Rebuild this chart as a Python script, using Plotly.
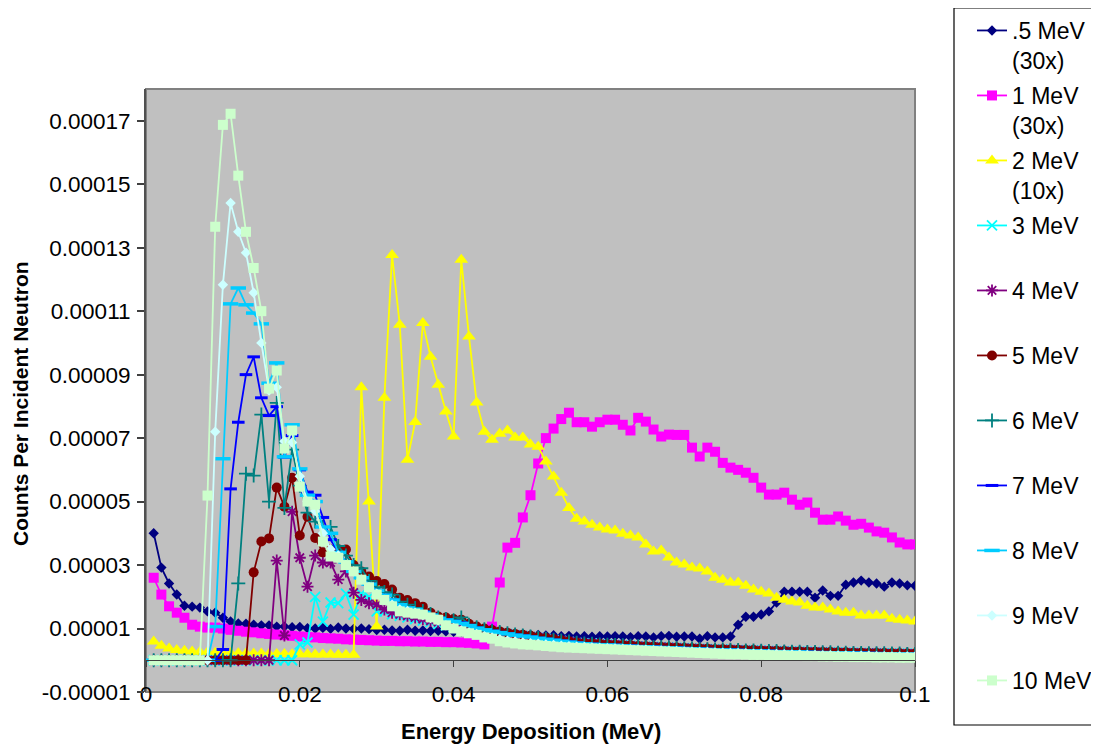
import plotly.graph_objects as go

# Energy-deposition bins (MeV)
energy = [round(0.001 * k, 3) for k in range(1, 101)]

# Counts per incident neutron, in units of 1e-6
s05 = [40, 29.2, 24.2, 20.7, 17.2, 16.9, 16.6, 15.4, 15, 13.4,
       12.2, 11.6, 11.5, 11.2, 11, 11, 10.6, 10.6, 10.4, 10.5,
       10.1, 10, 10.2, 9.9, 10.3, 10, 9.9, 10, 9.8, 9.5,
       9.6, 9.4, 9.3, 9.6, 9.3, 9.4, 9.2, 9.3, 9.1, 9,
       9.1, 8.9, 9, 8.9, 8.7, 8.5, 8.3, 8.2, 8.1, 8,
       8, 7.8, 7.9, 7.6, 7.7, 7.5, 7.6, 7.4, 7.6, 7.5,
       7.6, 7.5, 7.3, 7.6, 7.5, 7.2, 7.6, 7.7, 7.4, 7.5,
       7.5, 6.8, 7.6, 7.2, 7.2, 7.5, 11.2, 13.7, 13.7, 14.4,
       15.4, 18.2, 21.6, 21.6, 21.6, 21.6, 19.7, 22, 20.3, 20.3,
       23.8, 24.5, 25.1, 24.5, 24.2, 23.2, 24.5, 24.2, 23.6, 23.5]
s1 = [26, 20.7, 17, 15, 13.4, 11.2, 10.6, 10.3, 10.3, 10,
      9.6, 9.3, 9, 8.8, 8.5, 8.3, 8.1, 7.9, 7.7, 7.5,
      7.3, 7.2, 7, 6.9, 6.8, 6.6, 6.5, 6.4, 6.3, 6.2,
      6.1, 6.1, 6, 6, 5.9, 5.9, 5.8, 5.8, 5.7, 5.7,
      5.6, 5.5, 5.3, 5.0, 10.6, 24.5, 35.5, 37, 45, 52,
      62, 70, 73, 76, 78, 75, 75, 73.6, 75, 75.8,
      75.8, 74.2, 72.4, 76.4, 75.2, 72.7, 70.5, 71.1, 71, 71,
      67, 64.2, 67, 65.7, 62.2, 60.7, 60, 59.1, 57.5, 54.4,
      52.2, 52.2, 52.8, 50.6, 49, 49.7, 46.5, 44.3, 44.3, 45.3,
      44, 42.7, 43, 41.8, 40.6, 40.2, 38.7, 37.1, 36.5, 36.5]
s2 = [5.9, 4.6, 3.7, 3.2, 3, 2.8, 2.6, 2.5, 2.4, 2.3,
      2.2, 2.2, 2.1, 2.1, 2.1, 2, 2, 2, 1.9, 1.9,
      1.9, 1.8, 1.8, 1.8, 1.7, 1.7, 1.7, 86, 50, 10.6,
      82.7, 127.7, 105.7, 63.2, 75.1, 106.3, 95.6, 86.8, 78.4, 70.5,
      126.2, 102, 81.2, 72, 69.5, 71.4, 72.4, 70.2, 70.2, 68,
      67.3, 62.6, 57.9, 52.8, 48, 44.6, 43.7, 42.7, 41.8, 41.2,
      40.9, 39.9, 39.3, 38.7, 36.5, 34.3, 34.6, 32.4, 30.8, 30.2,
      29.2, 28.9, 28, 26, 25.4, 24.5, 24.5, 23.5, 22.3, 21.6,
      21, 19.7, 19.1, 18.5, 18.2, 17.2, 16.6, 16.6, 16, 15.4,
      15, 15, 14.1, 14.1, 14.1, 14.1, 13.1, 12.8, 12.5, 12.2]
s3 = [0] * 19 + [
      5, 5.6, 20, 12.2, 18.2, 18, 21, 14.4, 21, 20, 15.4,
      15.4, 14.5, 14, 13.5, 13, 12.5, 12, 11.5, 11, 10.5,
      10.2, 9.8, 9.5, 9, 8.8, 8.5, 8.2, 7.9, 7.6, 7.3,
      7, 6.7, 6.4, 6.1, 5.8, 5.5, 5.3, 5.2, 5.0, 4.9,
      4.8, 4.7, 4.6, 4.4, 4.3, 4.2, 4.1, 4.0, 3.9, 3.8,
      3.7, 3.6, 3.5, 3.4, 3.4, 3.3, 3.2, 3.1, 3.1, 3.0,
      2.9, 2.9, 2.8, 2.7, 2.7, 2.6, 2.6, 2.5, 2.5, 2.4,
      2.4, 2.3, 2.3, 2.2, 2.2, 2.2, 2.1, 2.1, 2.0, 2.0]
s4 = [0] * 16 + [
      31.4, 7.8, 46.8, 32.3,
      23.2, 33, 30.8, 30.8, 25.4, 28, 21.3, 19, 18, 17.5,
      16, 15, 14.5, 14, 13.5, 13, 12.4, 12, 11.4, 11,
      10.6, 10.1, 9.7, 9.3, 9, 8.7, 8.4, 8.1, 7.8, 7.5,
      7.2, 6.9, 6.6, 6.3, 6, 5.7, 5.4, 5.3, 5.1, 5.0,
      4.9, 4.8, 4.6, 4.5, 4.4, 4.3, 4.2, 4.1, 4.0, 3.9,
      3.8, 3.7, 3.6, 3.5, 3.4, 3.4, 3.3, 3.2, 3.1, 3.1,
      3.0, 2.9, 2.9, 2.8, 2.7, 2.7, 2.6, 2.6, 2.5, 2.5,
      2.4, 2.4, 2.3, 2.3, 2.3, 2.2, 2.2, 2.1, 2.1, 2.1]
s5 = [0] * 13 + [
      27.7, 37.4, 38.4, 54.4, 48.4, 57.5, 39.3,
      45.2, 38.5, 34, 34.9, 35, 34.9, 30, 28, 26.4, 25,
      24, 22.3, 19.7, 19, 18, 16.9, 15, 13.8, 13.5, 13,
      12.8, 11.5, 10.6, 10, 9.5, 9.1, 8.7, 8.3, 8, 7.7,
      7.3, 7, 6.7, 6.3, 6, 5.6, 5.4, 5.3, 5.2, 5.0,
      4.9, 4.8, 4.7, 4.5, 4.4, 4.3, 4.2, 4.1, 4.0, 3.9,
      3.8, 3.7, 3.6, 3.5, 3.5, 3.4, 3.3, 3.2, 3.2, 3.1,
      3.0, 3.0, 2.9, 2.8, 2.8, 2.7, 2.7, 2.6, 2.6, 2.5,
      2.5, 2.4, 2.4, 2.3, 2.3, 2.3, 2.2, 2.2, 2.1, 2.1]
s6 = [0] * 11 + [
      24.2, 58.8, 58.2, 77.4, 50, 81.1, 48, 66.4, 55,
      46.5, 43.7, 42, 42, 36, 33, 30, 29, 25, 23,
      21.5, 20.7, 18.5, 17.5, 16.5, 15.5, 14.6, 13.5, 13, 12.6,
      13.5, 11.2, 10.4, 9.8, 9.3, 8.9, 8.5, 8.1, 7.8, 7.5,
      7.1, 6.8, 6.5, 6.2, 5.9, 5.5, 5.3, 5.2, 5.0, 4.9,
      4.8, 4.7, 4.6, 4.4, 4.3, 4.2, 4.1, 4.0, 3.9, 3.8,
      3.7, 3.6, 3.5, 3.4, 3.4, 3.3, 3.2, 3.1, 3.1, 3.0,
      2.9, 2.9, 2.8, 2.7, 2.7, 2.6, 2.6, 2.5, 2.5, 2.4,
      2.4, 2.3, 2.3, 2.2, 2.2, 2.2, 2.1, 2.1, 2.0, 2.0]
s7 = [0] * 9 + [
      3.4,
      54, 75, 90, 95.6, 82.7, 77.1, 79.9, 64, 70.8, 60,
      53, 52, 45, 38, 34, 31, 28, 26, 24, 22,
      20.5, 19, 17.5, 16.5, 16, 15.2, 14.3, 13.3, 12.8, 12.3,
      11.8, 11, 10.2, 9.7, 9.2, 8.8, 8.4, 8, 7.7, 7.4,
      7.0, 6.7, 6.4, 6.1, 5.8, 5.5, 5.3, 5.1, 5.0, 4.9,
      4.8, 4.6, 4.5, 4.4, 4.3, 4.2, 4.1, 4.0, 3.9, 3.8,
      3.7, 3.6, 3.5, 3.4, 3.3, 3.3, 3.2, 3.1, 3.0, 3.0,
      2.9, 2.8, 2.8, 2.7, 2.7, 2.6, 2.5, 2.5, 2.4, 2.4,
      2.4, 2.3, 2.3, 2.2, 2.2, 2.1, 2.1, 2.1, 2.0, 2.0]
s8 = [0] * 8 + [
      10.6, 63.5, 112.3, 117.3, 112, 109.4, 106, 87.3, 93.7, 64.1, 74.2, 60.3,
      52, 50, 42, 40, 34, 31, 28, 26, 24, 22,
      20.5, 19, 17.5, 16.5, 16, 15, 14.2, 13.2, 12.7, 12.2,
      11.6, 10.9, 10.1, 9.6, 9.1, 8.7, 8.3, 7.9, 7.6, 7.3,
      6.9, 6.6, 6.3, 6.0, 5.7, 5.4, 5.2, 5.0, 4.9, 4.8,
      4.7, 4.5, 4.4, 4.3, 4.2, 4.1, 4.0, 3.9, 3.8, 3.7,
      3.6, 3.5, 3.4, 3.3, 3.2, 3.2, 3.1, 3.0, 2.9, 2.9,
      2.8, 2.7, 2.7, 2.6, 2.6, 2.5, 2.4, 2.4, 2.3, 2.3,
      2.3, 2.2, 2.2, 2.1, 2.1, 2.0, 2.0, 2.0, 1.9, 1.9]
s9 = [0] * 8 + [
      72, 118.3, 144.1, 135, 128.4, 115.8, 100, 85, 86, 69, 68.6, 58,
      50, 47, 40, 35, 33, 30, 28, 25.5, 23, 21,
      19, 17.5, 16, 15.5, 15, 14.2, 13.3, 12.5, 11, 10.2,
      9.4, 8.8, 8.3, 7.6, 7.2, 6.6, 6.2, 5.9, 5.6, 5.4,
      5.2, 5.0, 4.8, 4.6, 4.4, 4.3, 4.2, 4.0, 3.9, 3.8,
      3.7, 3.6, 3.5, 3.4, 3.3, 3.2, 3.1, 3.0, 2.9, 2.8,
      2.7, 2.6, 2.6, 2.5, 2.4, 2.3, 2.3, 2.2, 2.1, 2.1,
      2.0, 2.0, 1.9, 1.8, 1.8, 1.7, 1.7, 1.6, 1.6, 1.5,
      1.5, 1.4, 1.4, 1.4, 1.3, 1.3, 1.2, 1.2, 1.2, 1.1]
s10 = [0] * 7 + [
       51.9, 136.6, 168.7,
       172.2, 152.7, 135, 123.6, 110, 85.6, 91.3, 66.7, 72.4, 54.7,
       50, 49, 37.4, 32.7, 32.3, 30, 28, 25.4, 23, 20.7,
       19, 17, 15.4, 15, 14.7, 14.4, 13.5, 12.8, 11, 10,
       9.1, 8.5, 8, 7.2, 6.8, 6, 5.6, 5.3, 5, 4.9,
       4.7, 4.5, 4.3, 4.1, 4.0, 3.9, 3.8, 3.7, 3.6, 3.5,
       3.4, 3.3, 3.2, 3.1, 3.0, 2.9, 2.8, 2.7, 2.6, 2.5,
       2.4, 2.3, 2.2, 2.1, 2.0, 1.9, 1.9, 1.8, 1.7, 1.7,
       1.6, 1.5, 1.5, 1.4, 1.4, 1.3, 1.3, 1.2, 1.2, 1.1,
       1.1, 1.0, 1.0, 1.0, 0.9, 0.9, 0.9, 0.8, 0.8, 0.8]

series_names = [".5 MeV<br>(30x)", "1 MeV<br>(30x)", "2 MeV<br>(10x)", "3 MeV<br>\u00a0",
                "4 MeV<br>\u00a0", "5 MeV<br>\u00a0", "6 MeV<br>\u00a0", "7 MeV<br>\u00a0",
                "8 MeV<br>\u00a0", "9 MeV<br>\u00a0", "10 MeV"]
series_values = [s05, s1, s2, s3, s4, s5, s6, s7, s8, s9, s10]

y_tick_vals = [-1e-5, 1e-5, 3e-5, 5e-5, 7e-5, 9e-5, 11e-5, 13e-5, 15e-5, 17e-5]
y_tick_text = ["-0.00001", "0.00001", "0.00003", "0.00005", "0.00007", "0.00009",
               "0.00011", "0.00013", "0.00015", "0.00017"]
x_tick_vals = [0, 0.02, 0.04, 0.06, 0.08, 0.1]
x_tick_text = ["0", "0.02", "0.04", "0.06", "0.08", "0.1"]

styles = [
    dict(color="#000080", symbol="diamond", size=8, lw=0),
    dict(color="#FF00FF", symbol="square", size=10, lw=0),
    dict(color="#FFFF00", symbol="triangle-up", size=12, lw=0),
    dict(color="#00FFFF", symbol="x-thin", size=10, lw=1.8),
    dict(color="#800080", symbol="asterisk", size=10, lw=1.8),
    dict(color="#800000", symbol="circle", size=10, lw=0),
    dict(color="#008080", symbol="cross-thin", size=10, lw=1.8),
    dict(color="#0000FF", symbol="line-ew", size=9, lw=3),
    dict(color="#00CCFF", symbol="line-ew", size=11, lw=3.5),
    dict(color="#CCFFFF", symbol="diamond", size=8, lw=0),
    dict(color="#CCFFCC", symbol="square", size=10, lw=0),
]

FONT = "Arial, 'Liberation Sans', sans-serif"
fig = go.Figure()
for i, (name, vals, st) in enumerate(zip(series_names, series_values, styles)):
    fig.add_trace(go.Scatter(
        x=energy, y=[v * 1e-6 for v in vals], name=name, mode="lines+markers",
        legendgroup=str(i),
        line=dict(color=st["color"], width=1.8),
        marker=dict(symbol=st["symbol"], size=st["size"], color=st["color"],
                    line=dict(color=st["color"], width=st["lw"])),
    ))
# carrier for the axis line drawn at y = 0
fig.add_trace(go.Scatter(x=[None], y=[None], xaxis="x2", yaxis="y",
                         showlegend=False, hoverinfo="skip"))

# the page adds an 8px body margin; the figure is sized to fill the rest
OFF = 8
W, H = 1099 - OFF, 747 - OFF
ML, MR, MT, MB = 138, 184, 81, 55
PW, PH = W - ML - MR, H - MT - MB

def px_x(p):  # page pixel -> paper x
    return (p - OFF - ML) / PW

def px_y(p):  # page pixel -> paper y
    return (H - MB - (p - OFF)) / PH

fig.update_layout(
    width=W, height=H,
    margin=dict(l=ML, r=MR, t=MT, b=MB, autoexpand=False),
    paper_bgcolor="white", plot_bgcolor="#C0C0C0",
    font=dict(family=FONT, size=22, color="black"),
    showlegend=True,
    legend=dict(x=px_x(972), y=px_y(9), xanchor="left", yanchor="top",
                font=dict(family=FONT, size=23, color="black"),
                bgcolor="rgba(0,0,0,0)", borderwidth=0, maxheight=735,
                tracegroupgap=2.2, valign="top", itemwidth=30),
    xaxis=dict(range=[0, 0.1], anchor="free", position=0.023,
               tickvals=x_tick_vals, ticktext=x_tick_text,
               showline=False, ticks="", showgrid=False, zeroline=False,
               tickfont=dict(family=FONT, size=22.5, color="black")),
    xaxis2=dict(range=[0, 0.1], overlaying="x", anchor="free", position=1 / 19,
                showline=True, linecolor="#404040", linewidth=1,
                ticks="outside", ticklen=6, tickcolor="#404040", tickwidth=1,
                dtick=0.02, tick0=0, showticklabels=False,
                showgrid=False, zeroline=False),
    yaxis=dict(range=[-1e-5, 18e-5], tickvals=y_tick_vals, ticktext=y_tick_text,
               showline=True, linecolor="#505050", linewidth=2,
               ticks="outside", ticklen=7, tickcolor="#404040", tickwidth=1.5,
               showgrid=False, zeroline=False, ticklabelstandoff=2,
               tickfont=dict(family=FONT, size=22.5, color="black")),
    shapes=[
        dict(type="rect", xref="paper", yref="paper", x0=0, y0=0, x1=1, y1=1,
             line=dict(color="#808080", width=2), layer="below"),
        dict(type="rect", xref="paper", yref="paper",
             x0=px_x(954), x1=px_x(1130), y0=px_y(725), y1=px_y(8),
             line=dict(color="black", width=1.2)),
    ],
    annotations=[
        dict(text="<b>Counts Per Incident Neutron</b>", xref="paper", yref="paper",
             x=px_x(20), y=px_y(404), xanchor="center", yanchor="middle",
             textangle=-90, showarrow=False, font=dict(family=FONT, size=21)),
        dict(text="<b>Energy Deposition (MeV)</b>", xref="paper", yref="paper",
             x=px_x(531), y=px_y(731), xanchor="center", yanchor="middle",
             showarrow=False, font=dict(family=FONT, size=22)),
    ],
)

fig.write_html("out.html")
